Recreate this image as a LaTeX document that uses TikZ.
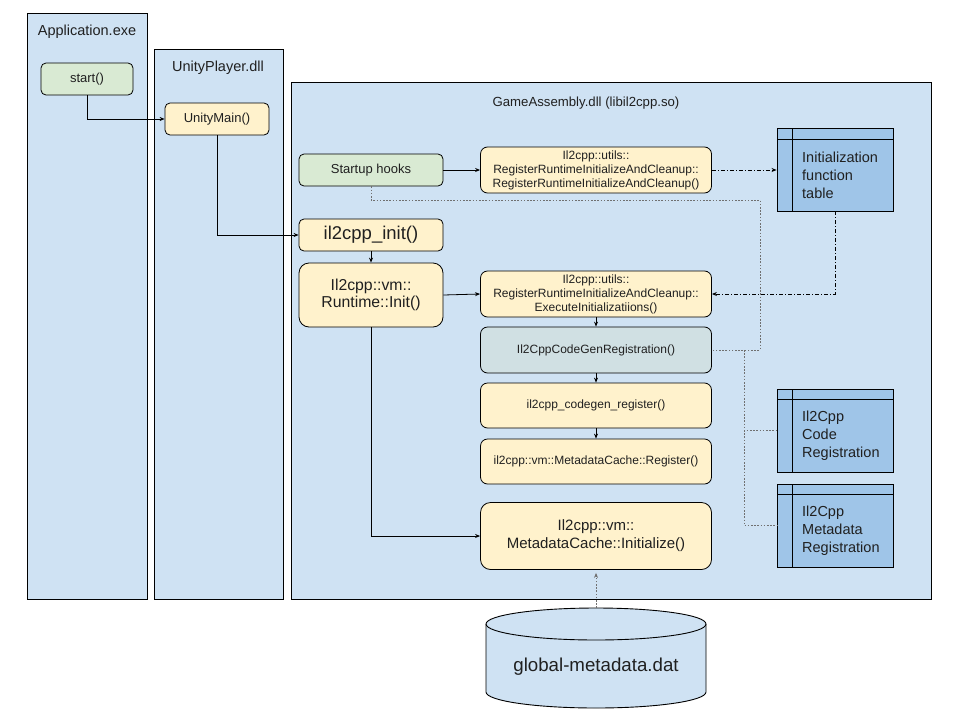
\documentclass[tikz,border=0pt]{standalone}
\usepackage{fontspec}
\setmainfont{Liberation Sans}
\usetikzlibrary{arrows.meta}
\definecolor{contblue}{HTML}{CFE2F3}
\definecolor{boxyellow}{HTML}{FFF2CC}
\definecolor{boxgreen}{HTML}{D9EAD3}
\definecolor{boxteal}{HTML}{D0E0E3}
\definecolor{tabblue}{HTML}{9FC5E8}
\definecolor{txt}{HTML}{202020}
\definecolor{dotgray}{HTML}{707070}
\newcommand{\fs}[2]{\fontsize{#1}{#2}\selectfont}
\tikzset{
  container/.style={draw=black, fill=contblue, line width=0.9pt},
  fbox/.style={draw=black, line width=0.8pt, rounded corners=5pt, inner sep=0pt, align=center, text=txt},
  ybox/.style={fbox, fill=boxyellow},
  gbox/.style={fbox, fill=boxgreen},
  tbox/.style={fbox, fill=boxteal},
  tabbox/.style={draw=black, line width=0.9pt, fill=tabblue, inner sep=0pt},
  tabtext/.style={anchor=west, align=left, inner sep=0pt, text=txt, font=\fs{14.5}{18}},
  ttl/.style={inner sep=0pt, text=txt, font=\fs{14.5}{17}},
  arr/.style={draw=black, line width=0.8pt, -{Stealth[length=5pt,width=4pt]}},
  plain/.style={draw=black, line width=0.8pt},
  dotl/.style={draw=dotgray, line width=0.8pt, dash pattern=on 1.6pt off 1.6pt},
  dashdot/.style={draw=black, line width=0.8pt, dash pattern=on 4pt off 2pt on 1pt off 2pt},
}
\begin{document}
\begin{tikzpicture}[x=1pt,y=-1pt]
\useasboundingbox (0,0) rectangle (960,720);
\fill[white] (0,0) rectangle (960,720);
% containers
\draw[container] (27,13) rectangle (147,599);
\node[ttl] (apptitle) at (87,32) {Application.exe};
\draw[container] (154,49) rectangle (283,599);
\node[ttl] (unitytitle) at (218,68) {UnityPlayer.dll};
\draw[container] (291,82) rectangle (931,599);
\node[ttl, font=\fs{13.2}{15}] (gametitle) at (586,103) {GameAssembly.dll (libil2cpp.so)};
% boxes
\node[gbox, minimum width=92pt, minimum height=32pt, font=\fs{13}{15}] (start) at (87,79) {start()};
\node[ybox, minimum width=104pt, minimum height=32pt, font=\fs{13}{15}] (unitymain) at (217,119) {UnityMain()};
\node[gbox, minimum width=144pt, minimum height=32pt, font=\fs{13}{15}] (startup) at (371,170) {Startup hooks};
\node[ybox, minimum width=144pt, minimum height=32pt, font=\fs{18.5}{20}] (init) at (371,235) {il2cpp\_init()};
\node[ybox, minimum width=144pt, minimum height=64pt, rounded corners=10pt, font=\fs{15.8}{17.5}] (rtinit) at (371,295) {Il2cpp::vm::\\Runtime::Init()};
\node[ybox, minimum width=231pt, minimum height=46pt, rounded corners=7pt, font=\fs{12}{14}] (reg) at (596,170) {Il2cpp::utils::\\RegisterRuntimeInitializeAndCleanup::\\RegisterRuntimeInitializeAndCleanup()};
\node[ybox, minimum width=231pt, minimum height=46pt, rounded corners=7pt, font=\fs{12}{14}] (exec) at (596,294) {Il2cpp::utils::\\RegisterRuntimeInitializeAndCleanup::\\ExecuteInitializatiions()};
\node[tbox, minimum width=231pt, minimum height=46pt, rounded corners=7pt, font=\fs{12}{14}] (codegen) at (596,350) {Il2CppCodeGenRegistration()};
\node[ybox, minimum width=231pt, minimum height=45pt, rounded corners=7pt, font=\fs{12}{14}] (cgreg) at (596,405.5) {il2cpp\_codegen\_register()};
\node[ybox, minimum width=231pt, minimum height=45pt, rounded corners=7pt, font=\fs{12}{14}] (mcreg) at (596,461.5) {il2cpp::vm::MetadataCache::Register()};
\node[ybox, minimum width=231pt, minimum height=67pt, rounded corners=10pt, font=\fs{15}{18}] (mcinit) at (596,536) {Il2cpp::vm::\\MetadataCache::Initialize()};
% tables
\node[tabbox, minimum width=116pt, minimum height=83pt] (table) at (835,169.5) {};
\draw[plain] (777,139) -- (893,139) (792,128) -- (792,211);
\node[tabtext] (tabletxt) at (802,175) {Initialization\\function\\table};
\node[tabbox, minimum width=116pt, minimum height=83pt] (coderegtab) at (835,430.5) {};
\draw[plain] (777,399.5) -- (893,399.5) (792,389) -- (792,472);
\node[tabtext] (coderegtxt) at (802,436) {Il2Cpp\\Code\\Registration};
\node[tabbox, minimum width=116pt, minimum height=83pt] (metaregtab) at (835,525.5) {};
\draw[plain] (777,494.5) -- (893,494.5) (792,484) -- (792,567);
\node[tabtext] (metaregtxt) at (802,531) {Il2Cpp\\Metadata\\Registration};
% cylinder
\draw[draw=black, line width=0.9pt, fill=contblue] (486,624) -- (486,692) arc[start angle=180, end angle=360, x radius=110pt, y radius=16pt] -- (706,624) arc[start angle=0, end angle=180, x radius=110pt, y radius=16pt] -- cycle;
\draw[draw=black, line width=0.9pt] (486,624) arc[start angle=180, end angle=360, x radius=110pt, y radius=16pt];
\coordinate (dbtop) at (596,608);
\node[inner sep=0pt, text=txt, font=\fs{18.7}{20}] (db) at (596,667) {global-metadata.dat};
% connectors
\draw[arr] (start.south) |- (unitymain.west);
\draw[arr] (unitymain.south) |- (init.west);
\draw[arr] (startup.east) -- (reg.west);
\draw[dashdot, -{Stealth[length=5pt,width=4pt]}] (reg.east) -- (reg.east -| table.west);
\coordinate (j1) at (760,200);
\draw[dotl] (startup.south) |- (j1) |- (codegen.east);
\coordinate (j2) at (744,350);
\draw[dotl] (j2) |- (coderegtab.west);
\draw[dotl] (j2) |- (metaregtab.west);
\draw[dashdot, -{Stealth[length=5pt,width=4pt]}] (table.south) |- (exec.east);
\draw[arr] (init.south) -- (rtinit.north);
\draw[arr] (rtinit.east) -- (exec.west);
\draw[arr] (exec.south) -- (codegen.north);
\draw[arr] (codegen.south) -- (cgreg.north);
\draw[arr] (cgreg.south) -- (mcreg.north);
\draw[arr] (rtinit.south) |- (mcinit.west);
\draw[dotl, -{Stealth[length=5pt,width=4pt]}] (dbtop) -- ([yshift=-3pt]mcinit.south);
\end{tikzpicture}
\end{document}
